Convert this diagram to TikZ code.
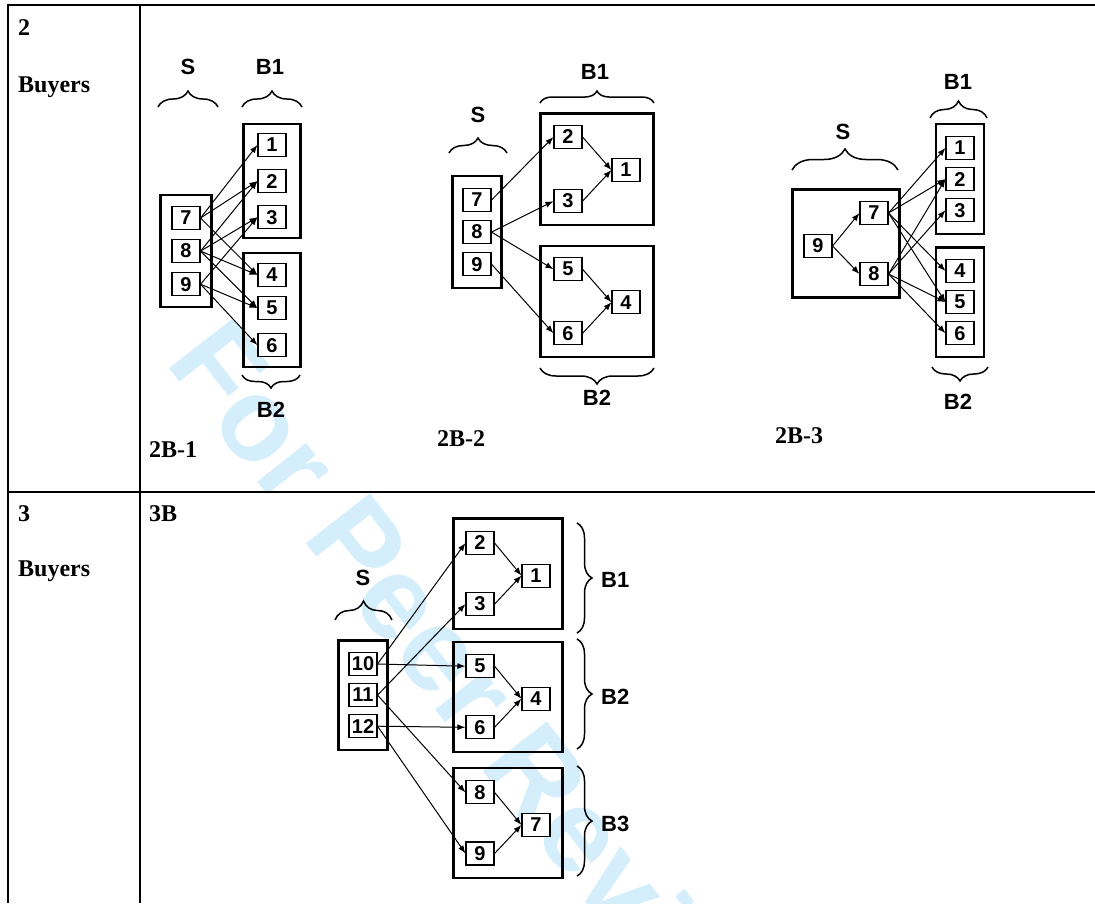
\documentclass[tikz,border=0pt]{standalone}
\usepackage{fontspec}
\setmainfont{Liberation Serif}
\setsansfont{Liberation Sans}
\usepackage{tikz}
\usetikzlibrary{calc,positioning,arrows.meta,fit,backgrounds,decorations.pathreplacing}

\definecolor{wmblue}{RGB}{212,238,252}

\begin{document}
\begin{tikzpicture}[x=1pt, y=-1pt, align=center,
        num/.style={draw, fill=white, line width=1.1pt, minimum width=28pt, minimum height=23pt, inner sep=0pt, font=\sffamily\bfseries\fontsize{20}{20}\selectfont},
        grp/.style={draw, line width=2.2pt, inner xsep=11pt, inner ysep=11pt},
        lbl/.style={inner sep=0pt, font=\sffamily\bfseries\fontsize{22}{22}\selectfont},
        captxt/.style={anchor=base west, inner sep=0pt, font=\bfseries\fontsize{24}{24}\selectfont},
        brc/.style={decorate, decoration={brace, amplitude=#1}, line width=1.5pt},
        brc/.default=14pt,
        arr/.style={-{Latex[length=8pt, width=6pt]}, line width=1pt},
        rule/.style={line width=2.3pt}]
        \useasboundingbox (0,0) rectangle (1095,903);

        % table
        \draw[rule] (1095,5) -- (8,5) -- (8,903);
        \draw[rule] (140,5) -- (140,903);
        \draw[rule] (8,492) -- (1095,492);

        \node [captxt] (row2_num) at (18,35) {2};
        \node [captxt] (row2_txt) at (18,92) {Buyers};
        \node [captxt] (row3_num) at (18,521) {3};
        \node [captxt] (row3_txt) at (18,576) {Buyers};

        % 2B-1
        \node [num] (a_7) at (186,218) {7};
        \node [num, below=9pt of a_7] (a_8) {8};
        \node [num, below=9pt of a_8] (a_9) {9};

        \node [num] (a_1) at (272,145) {1};
        \node [num, below=12pt of a_1] (a_2) {2};
        \node [num, below=12pt of a_2] (a_3) {3};

        \node [num] (a_4) at (272,275) {4};
        \node [num, below=9pt of a_4] (a_5) {5};
        \node [num, below=13pt of a_5] (a_6) {6};

        \node [grp, fit=(a_7)(a_9)] (a_sell) {};
        \node [grp, inner xsep=14pt, inner ysep=9pt, fit=(a_1)(a_3)] (a_buy1) {};
        \node [grp, inner xsep=14pt, inner ysep=10pt, fit=(a_4)(a_6)] (a_buy2) {};

        \draw[arr] (a_7.east) -- (a_1.west);
        \draw[arr] (a_7.east) -- (a_2.west);
        \draw[arr] (a_7.east) -- (a_4.west);
        \draw[arr] (a_8.east) -- (a_2.west);
        \draw[arr] (a_8.east) -- (a_3.west);
        \draw[arr] (a_8.east) -- (a_4.west);
        \draw[arr] (a_8.east) -- (a_5.west);
        \draw[arr] (a_9.east) -- (a_3.west);
        \draw[arr] (a_9.east) -- (a_5.west);
        \draw[arr] (a_9.east) -- (a_6.west);

        \draw[brc=16pt] (158,107) -- (218,107);
        \draw[brc=16pt] (242,107) -- (302,107);
        \draw[brc=13pt] (300,375) -- (242,375);
        \node [lbl] (a_sell_lbl) at (188,67) {S};
        \node [lbl] (a_buy1_lbl) at (270,67) {B1};
        \node [lbl] (a_buy2_lbl) at (271,410) {B2};
        \node [captxt] (a_cap) at (149,457) {2B-1};

        % 2B-2
        \node [num] (b_7) at (477,200) {7};
        \node [num, below=8pt of b_7] (b_8) {8};
        \node [num, below=8pt of b_8] (b_9) {9};

        \node [num] (b_2) at (568,137) {2};
        \node [num, below=40pt of b_2] (b_3) {3};
        \node [num] (b_1) at ($(b_2)!0.5!(b_3)+(58,1)$) {1};
        \node [num, below=44pt of b_3] (b_5) {5};
        \node [num, below=40pt of b_5] (b_6) {6};
        \node [num] (b_4) at ($(b_5)!0.5!(b_6)+(58,1)$) {4};

        \node [grp, inner xsep=10pt, inner ysep=12pt, fit=(b_7)(b_9)] (b_sell) {};
        \node [grp, inner xsep=13pt, inner ysep=11.5pt, fit=(b_2)(b_3)(b_1)] (b_buy1) {};
        \node [grp, inner xsep=13pt, inner ysep=11.5pt, fit=(b_5)(b_6)(b_4)] (b_buy2) {};

        \draw[arr] (b_7.east) -- (b_2.west);
        \draw[arr] (b_8.east) -- (b_3.west);
        \draw[arr] (b_8.east) -- (b_5.west);
        \draw[arr] (b_9.east) -- (b_6.west);
        \draw[arr] (b_2.east) -- (b_1.west);
        \draw[arr] (b_3.east) -- (b_1.west);
        \draw[arr] (b_5.east) -- (b_4.west);
        \draw[arr] (b_6.east) -- (b_4.west);

        \draw[brc=15pt] (449,153) -- (507,153);
        \draw[brc=12pt] (540,103) -- (654,103);
        \draw[brc=16pt] (654,368) -- (540,368);
        \node [lbl] (b_sell_lbl) at (478,115) {S};
        \node [lbl] (b_buy1_lbl) at (595,72) {B1};
        \node [lbl] (b_buy2_lbl) at (597,398) {B2};
        \node [captxt] (b_cap) at (437,446) {2B-2};

        % 2B-3
        \node [num] (c_9) at (818,246) {9};
        \node [num] (c_7) at ($(c_9)+(56,-33)$) {7};
        \node [num] (c_8) at ($(c_9)+(56,28)$) {8};

        \node [num] (c_1) at (960,148) {1};
        \node [num, below=7pt of c_1] (c_2) {2};
        \node [num, below=7pt of c_2] (c_3) {3};
        \node [num] (c_4) at (960,271) {4};
        \node [num, below=7pt of c_4] (c_5) {5};
        \node [num, below=7pt of c_5] (c_6) {6};

        \node [grp, inner ysep=11.5pt, fit=(c_9)(c_7)(c_8)] (c_sell) {};
        \node [grp, inner xsep=9.5pt, inner ysep=12pt, fit=(c_1)(c_3)] (c_buy1) {};
        \node [grp, inner xsep=9.5pt, inner ysep=11.5pt, fit=(c_4)(c_6)] (c_buy2) {};

        \draw[arr] (c_9.east) -- (c_7.west);
        \draw[arr] (c_9.east) -- (c_8.west);
        \draw[arr] (c_7.east) -- (c_1.west);
        \draw[arr] (c_7.east) -- (c_2.west);
        \draw[arr] (c_7.east) -- (c_4.west);
        \draw[arr] (c_7.east) -- (c_5.west);
        \draw[arr] (c_8.east) -- (c_2.west);
        \draw[arr] (c_8.east) -- (c_3.west);
        \draw[arr] (c_8.east) -- (c_5.west);
        \draw[arr] (c_8.east) -- (c_6.west);

        \draw[brc=21pt] (792,170) -- (898,170);
        \draw[brc=17pt] (930,118) -- (987,118);
        \draw[brc=14pt] (988,367) -- (932,367);
        \node [lbl] (c_sell_lbl) at (843,132) {S};
        \node [lbl] (c_buy1_lbl) at (958,82) {B1};
        \node [lbl] (c_buy2_lbl) at (958,402) {B2};
        \node [captxt] (c_cap) at (775,443) {2B-3};

        % 3B
        \node [num] (d_10) at (363,664) {10};
        \node [num, below=7pt of d_10] (d_11) {11};
        \node [num, below=7pt of d_11] (d_12) {12};

        \node [num] (d_2) at (480,543) {2};
        \node [num, below=37pt of d_2] (d_3) {3};
        \node [num] (d_1) at ($(d_2)!0.5!(d_3)+(56,2)$) {1};
        \node [num, below=38pt of d_3] (d_5) {5};
        \node [num, below=37pt of d_5] (d_6) {6};
        \node [num] (d_4) at ($(d_5)!0.5!(d_6)+(56,2)$) {4};
        \node [num, below=41pt of d_6] (d_8) {8};
        \node [num, below=37pt of d_8] (d_9) {9};
        \node [num] (d_7) at ($(d_8)!0.5!(d_9)+(56,2)$) {7};

        \node [grp, inner xsep=10pt, inner ysep=11.5pt, fit=(d_10)(d_12)] (d_sell) {};
        \node [grp, inner xsep=12pt, inner ysep=12.5pt, fit=(d_2)(d_3)(d_1)] (d_buy1) {};
        \node [grp, inner xsep=12pt, inner ysep=12.5pt, fit=(d_5)(d_6)(d_4)] (d_buy2) {};
        \node [grp, inner xsep=12pt, inner ysep=12.5pt, fit=(d_8)(d_9)(d_7)] (d_buy3) {};

        \draw[arr] (d_10.east) -- (d_2.west);
        \draw[arr] (d_10.east) -- (d_5.west);
        \draw[arr] (d_11.east) -- (d_3.west);
        \draw[arr] (d_11.east) -- (d_8.west);
        \draw[arr] (d_12.east) -- (d_6.west);
        \draw[arr] (d_12.east) -- (d_9.west);
        \draw[arr] (d_2.east) -- (d_1.west);
        \draw[arr] (d_3.east) -- (d_1.west);
        \draw[arr] (d_5.east) -- (d_4.west);
        \draw[arr] (d_6.east) -- (d_4.west);
        \draw[arr] (d_8.east) -- (d_7.west);
        \draw[arr] (d_9.east) -- (d_7.west);

        \draw[brc=19pt] (335,620) -- (392,620);
        \draw[brc=15pt] (577,523) -- (577,633);
        \draw[brc=15pt] (577,639) -- (577,749);
        \draw[brc=15pt] (577,766) -- (577,876);
        \node [lbl] (d_sell_lbl) at (363,578) {S};
        \node [lbl, anchor=west] (d_buy1_lbl) at (601,580) {B1};
        \node [lbl, anchor=west] (d_buy2_lbl) at (601,697) {B2};
        \node [lbl, anchor=west] (d_buy3_lbl) at (601,824) {B3};
        \node [captxt] (d_cap) at (149,521) {3B};

        \begin{scope}[on background layer]
            \node [rotate=-52, text=wmblue, inner sep=0pt, font=\sffamily\bfseries\fontsize{118}{118}\selectfont] (wmark) at (480,698) {For Peer Review};
        \end{scope}

    \end{tikzpicture}
\end{document}
